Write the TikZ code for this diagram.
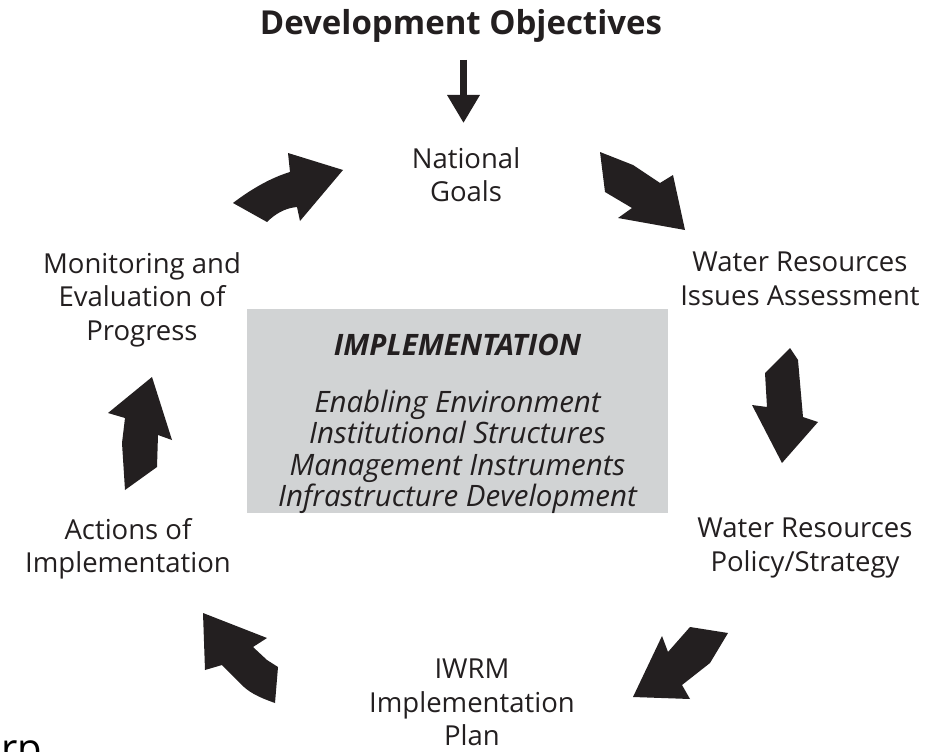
\documentclass[tikz,border=0pt]{standalone}
\usepackage{fontspec}
\setmainfont{Open Sans}
\usetikzlibrary{arrows.meta}
\definecolor{ink}{RGB}{35,31,32}
\definecolor{boxgray}{RGB}{209,211,212}

\begin{document}
\begin{tikzpicture}[x=1pt,y=-1pt,
  lbl/.style={align=center, inner sep=0pt, anchor=north, text=ink,
              font=\fontsize{27.5}{33.5}\selectfont},
  boxtext/.style={align=center, inner sep=0pt, anchor=north, text=ink,
              font=\itshape\fontsize{29.5}{31.5}\selectfont},
  bigarrow/.style={fill=ink, draw=none},
]
\useasboundingbox (0,0) rectangle (946,752);
\fill[white] (0,0) rectangle (946,752);

% heading and the thin arrow below it
\node[inner sep=0pt, anchor=base, text=ink,
      font=\bfseries\fontsize{33}{38}\selectfont] (title) at (461,35) {Development Objectives};
\coordinate (dtop) at (463.5,60);
\coordinate (dtip) at (463.5,123);
\draw[ink, line width=6.5pt, -{Triangle[length=28pt, width=31pt]}] (dtop) -- (dtip);

% stages of the cycle
\node[lbl] (goals)   at (466,147) {National\\Goals};
\node[lbl] (issues)  at (800,252) {Water Resources\\Issues Assessment};
\node[lbl] (policy)  at (805,518) {Water Resources\\Policy/Strategy};
\node[lbl] (iwrm)    at (472,659) {IWRM\\Implementation\\Plan};
\node[lbl] (actions) at (128,518) {Actions of\\Implementation};
\node[lbl] (monitor) at (142,252) {Monitoring and\\Evaluation of\\Progress};

% central panel
\node[fill=boxgray, inner sep=0pt, minimum width=421pt, minimum height=204pt]
  (impl) at (457.5,411) {};
\node[boxtext] (impltext) at (457.5,334)
  {\textbf{IMPLEMENTATION}\\[25pt]
   Enabling Environment\\
   Institutional Structures\\
   Management Instruments\\
   Infrastructure Development};

% block arrows between the stages
\fill[bigarrow] (233,203) .. controls (250,190) and (270,178) .. (290,172)
  -- (288,153) -- (343,170) -- (300,221) -- (297,207)
  .. controls (285,208) and (275,214) .. (267,222) -- cycle;
\fill[bigarrow] (600,152) -- (633,165) -- (660,183) -- (673,175) -- (685,230)
  -- (618,218) -- (632,208) -- (605,192) -- cycle;
\fill[bigarrow] (790,348) -- (798,360) -- (803,417) -- (818,422) -- (782,463)
  -- (752,405) -- (767,407) -- (765,373) -- cycle;
\fill[bigarrow] (690,627) -- (728,633) -- (710,663) -- (682,685) -- (690,699)
  -- (633,697) -- (662,636) -- (668,652) -- cycle;
\fill[bigarrow] (203,613) -- (267,638) -- (253,647) -- (267,660) -- (278,667)
  -- (275,703) .. controls (258,697) and (248,692) .. (240,683)
  -- (222,665) -- (205,670) -- cycle;
\fill[bigarrow] (152,377) -- (172,440) -- (158,435) -- (157,467) -- (125,490)
  -- (122,443) -- (125,418) -- (108,413) -- cycle;

% stray fragment at the lower left edge
\node[inner sep=0pt, anchor=base west, text=black,
      font=\fontsize{40}{48}\selectfont] (frag) at (1,762) {rp};
\end{tikzpicture}
\end{document}
